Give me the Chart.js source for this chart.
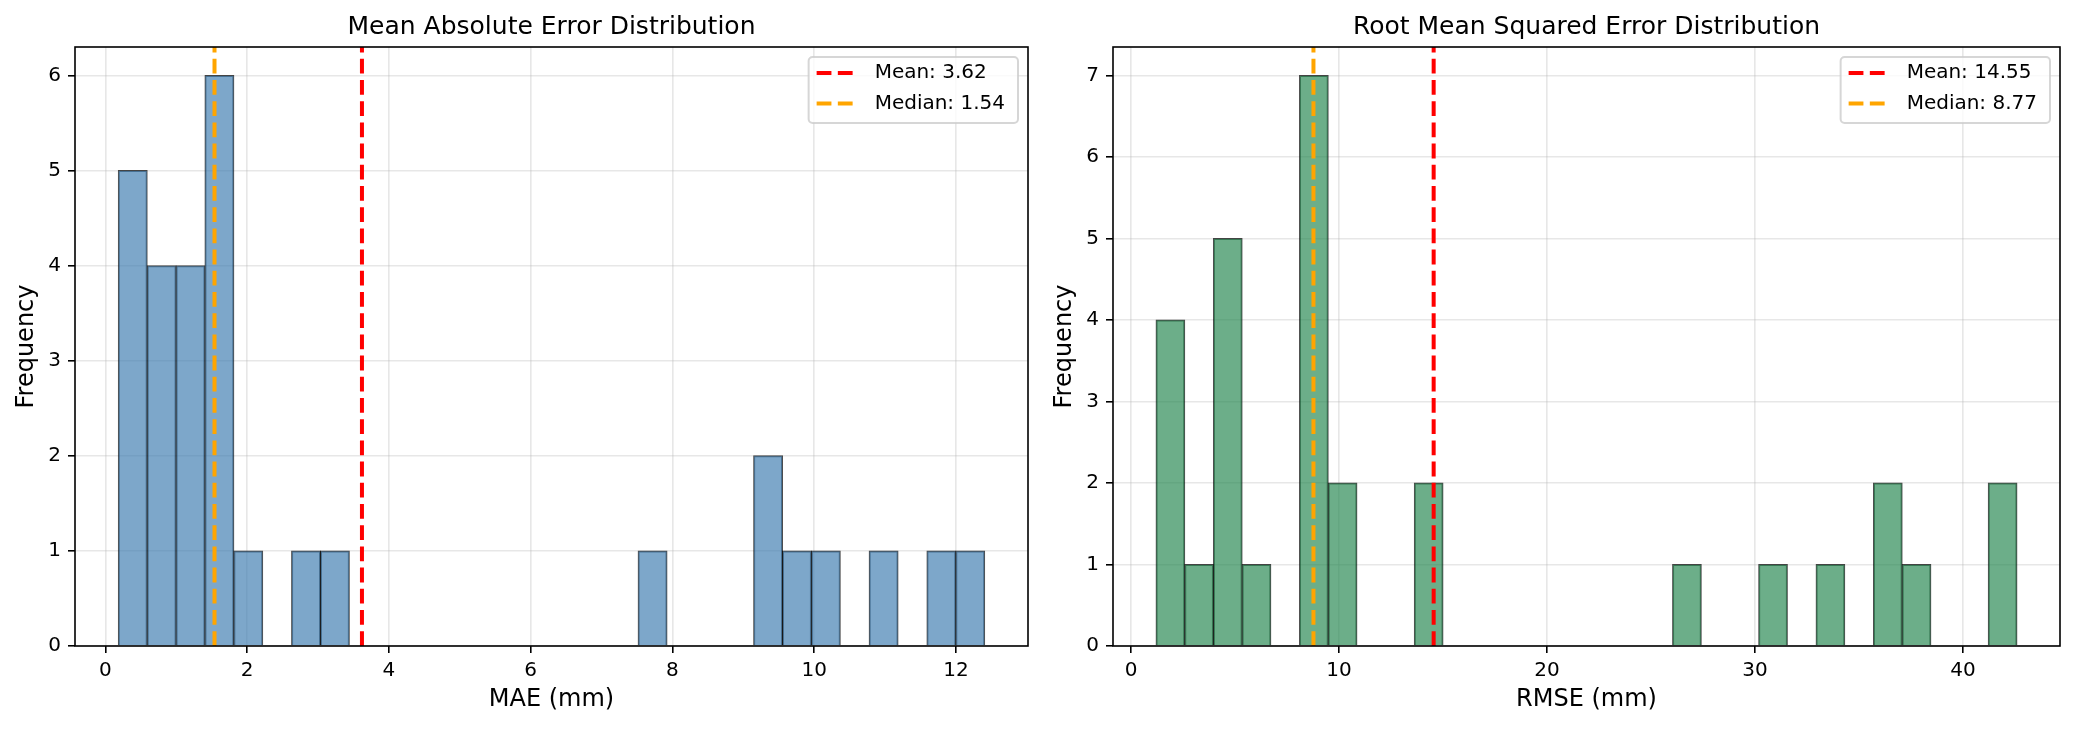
<!DOCTYPE html>
<html>
<head>
<meta charset="utf-8">
<script src="https://cdn.jsdelivr.net/npm/chart.js@4.4.0/dist/chart.umd.min.js"></script>
<style>
  html, body { margin: 0; padding: 0; background: #fff; }
  body { width: 2082px; height: 729px; position: relative; overflow: hidden; }
  .panel { position: absolute; top: 0; height: 729px; }
  #panel-mae  { left: 0;      width: 1038px; }
  #panel-rmse { left: 1038px; width: 1044px; }
</style>
</head>
<body>
<div class="panel" id="panel-mae"><canvas id="chart-mae"></canvas></div>
<div class="panel" id="panel-rmse"><canvas id="chart-rmse"></canvas></div>
<script>
// ── Histogram bins (30 bins per panel) ──
const maeBinStart = 0.183;
const maeBinWidth = 0.4074;
const maeCounts   = [5,4,4,6,1,0,1,1,0,0, 0,0,0,0,0,0,0,0,1,0, 0,0,2,1,1,0,1,0,1,1];
const maeMean     = 3.62;
const maeMedian   = 1.54;
const maeXTicks   = [0, 2, 4, 6, 8, 10, 12];
const maeYTicks   = [0, 1, 2, 3, 4, 5, 6];

const rmseBinStart = 1.2;
const rmseBinWidth = 1.38;
const rmseCounts   = [4,1,5,1,0,7,2,0,0,2, 0,0,0,0,0,0,0,0,1,0, 0,1,0,1,0,2,1,0,0,2];
const rmseMean     = 14.55;
const rmseMedian   = 8.77;
const rmseXTicks   = [0, 10, 20, 30, 40];
const rmseYTicks   = [0, 1, 2, 3, 4, 5, 6, 7];

const COLORS = {
  mae:    "rgba(70,130,180,0.7)",   // steelblue, alpha .7
  rmse:   "rgba(46,139,87,0.7)",    // seagreen, alpha .7
  edge:   "rgba(0,0,0,0.7)",
  mean:   "#ff0000",
  median: "#ffa500",
  grid:   "rgba(176,176,176,0.3)",
};
const DASH = [14.8, 6.4];

Chart.defaults.font.family = "'DejaVu Sans', sans-serif";
Chart.defaults.color = "#000";

// ── Box frame round the plot (all four spines) ──
const framePlugin = {
  id: "frame",
  afterDatasetsDraw(chart) {
    const { ctx, chartArea: a } = chart;
    ctx.save();
    ctx.lineWidth = 1.6;
    ctx.strokeStyle = "#000";
    ctx.strokeRect(a.left, a.top, a.right - a.left, a.bottom - a.top);
    ctx.restore();
  }
};

// ── Legend in upper right corner of the plot, boxed ──
const legendBoxPlugin = {
  id: "legendBox",
  afterDraw(chart) {
    const { ctx, chartArea: a } = chart;
    const items = chart.data.datasets.filter(d => d.type === "line");
    ctx.save();
    ctx.font = "20px 'DejaVu Sans'";
    const textW = Math.max(...items.map(d => ctx.measureText(d.label).width));
    const w = 66 + textW + 13, h = 66;
    const x = a.right - 10 - w, y = a.top + 10;
    ctx.beginPath();
    ctx.roundRect(x, y, w, h, 4);
    ctx.fillStyle = "rgba(255,255,255,0.8)";
    ctx.fill();
    ctx.lineWidth = 2;
    ctx.strokeStyle = "rgba(204,204,204,0.8)";
    ctx.stroke();
    items.forEach((d, i) => {
      const cy = y + 16 + i * 30.5;
      ctx.beginPath();
      ctx.setLineDash(d.borderDash);
      ctx.lineWidth = d.borderWidth;
      ctx.strokeStyle = d.borderColor;
      ctx.moveTo(x + 8, cy);
      ctx.lineTo(x + 48, cy);
      ctx.stroke();
      ctx.setLineDash([]);
      ctx.fillStyle = "#000";
      ctx.textAlign = "left";
      ctx.textBaseline = "middle";
      ctx.fillText(d.label, x + 66, cy);
    });
    ctx.restore();
  }
};

function axisGrid() {
  return { offset: false, color: COLORS.grid, lineWidth: 1.6, tickColor: "#000", tickWidth: 1.6, tickLength: 7 };
}

// ── Histogram chart factory ──
function histChart(id, p) {
  const n = p.counts.length;
  const binEnd = p.start + n * p.width;
  const margin = 0.05 * (binEnd - p.start);
  const yMax = 1.05 * Math.max(...p.counts);
  const bins = p.counts.map((c, i) => ({ x: p.start + (i + 0.5) * p.width, y: c > 0 ? c : null }));

  return new Chart(document.getElementById(id), {
    type: "bar",
    data: {
      datasets: [
        { type: "line", label: "Mean: " + p.mean.toFixed(2), data: [{ x: p.mean, y: 0 }, { x: p.mean, y: yMax }],
          borderColor: COLORS.mean, borderWidth: 4, borderDash: DASH, pointRadius: 0, order: 1 },
        { type: "line", label: "Median: " + p.median.toFixed(2), data: [{ x: p.median, y: 0 }, { x: p.median, y: yMax }],
          borderColor: COLORS.median, borderWidth: 4, borderDash: DASH, pointRadius: 0, order: 0 },
        { type: "bar", label: p.xLabel, data: bins, backgroundColor: p.color, borderColor: COLORS.edge,
          borderWidth: 1, inflateAmount: 0.5, barPercentage: 1, categoryPercentage: 1, grouped: false, order: 2 },
      ]
    },
    options: {
      responsive: true,
      maintainAspectRatio: false,
      animation: false,
      layout: { padding: { left: 0, right: p.padRight, top: 0, bottom: 0 } },
      plugins: {
        legend: { display: false },
        tooltip: { enabled: false },
        title: { display: true, text: p.title, fullSize: false, color: "#000",
                 font: { size: 25, weight: "normal" }, padding: { top: 12.8, bottom: 4.2 } },
      },
      scales: {
        x: {
          type: "linear", min: p.start - margin, max: binEnd + margin, offset: false,
          grid: axisGrid(), border: { display: false },
          ticks: { font: { size: 20 }, color: "#000", padding: 6, maxRotation: 0 },
          title: { display: true, text: p.xLabel, color: "#000", font: { size: 24 }, padding: { top: 0, bottom: 14.6 } },
          afterBuildTicks: s => { s.ticks = p.xTicks.map(v => ({ value: v })); },
          afterFit: s => { s.height = 83; },
        },
        y: {
          type: "linear", min: 0, max: yMax,
          grid: axisGrid(), border: { display: false },
          ticks: { font: { size: 20 }, color: "#000", padding: 7 },
          title: { display: true, text: "Frequency", color: "#000", font: { size: 24 }, padding: { top: 12.3, bottom: 0 } },
          afterBuildTicks: s => { s.ticks = p.yTicks.map(v => ({ value: v })); },
          afterFit: s => { s.width = 75; },
        },
      },
    },
    plugins: [framePlugin, legendBoxPlugin],
  });
}

histChart("chart-mae", {
  title: "Mean Absolute Error Distribution", xLabel: "MAE (mm)",
  start: maeBinStart, width: maeBinWidth, counts: maeCounts,
  mean: maeMean, median: maeMedian, xTicks: maeXTicks, yTicks: maeYTicks,
  color: COLORS.mae, padRight: 10,
});

histChart("chart-rmse", {
  title: "Root Mean Squared Error Distribution", xLabel: "RMSE (mm)",
  start: rmseBinStart, width: rmseBinWidth, counts: rmseCounts,
  mean: rmseMean, median: rmseMedian, xTicks: rmseXTicks, yTicks: rmseYTicks,
  color: COLORS.rmse, padRight: 22,
});
</script>
</body>
</html>
